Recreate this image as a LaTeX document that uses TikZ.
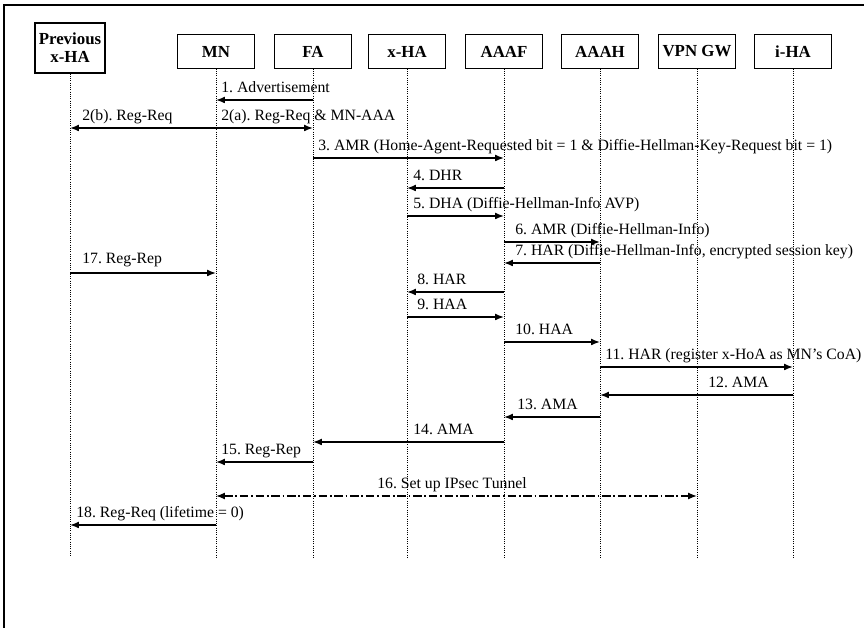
\documentclass[tikz,border=0pt]{standalone}
\usepackage{fontspec}
\setmainfont{Liberation Serif}
\usetikzlibrary{arrows.meta,calc}
\frenchspacing

\begin{document}
\begin{tikzpicture}[
    x=0.025cm, y=-0.025cm,
    >={Latex[length=2.2mm,width=1.7mm]},
    line cap=butt, line join=miter,
    every node/.style={font=\fontsize{11.2}{12}\selectfont},
    entity/.style={draw, line width=0.8pt, minimum width=1.93cm, minimum height=0.83cm,
                   inner sep=1pt, font=\fontsize{12}{13}\selectfont\bfseries, align=center},
    life/.style={line width=0.6pt, densely dotted},
    msg/.style={line width=1pt, ->},
    tunnel/.style={line width=0.9pt, <->, dash pattern=on 6pt off 2pt on 1.2pt off 2pt},
    lbl/.style={anchor=base west, inner sep=0pt},
]
\useasboundingbox (0,0) rectangle (864,628);

% ============================================================
% Lifeline positions (pixels of the original figure)
% ============================================================
\def\xPrev{70}
\def\xMN{216}
\def\xFA{313}
\def\xHA{407}
\def\xAF{504}
\def\xAH{600}
\def\xVPN{697}
\def\xIHA{793}
\def\yEnd{557}

% Frame (top and left edge only)
\draw[line width=1pt] (4,628) -- (4,5) -- (864,5);

% Entities
\node[entity, minimum width=1.75cm, minimum height=1.25cm] (PrevHA) at (\xPrev,48) {Previous\\x-HA};
\node[entity] (MN)   at (\xMN,51.5)  {MN};
\node[entity] (FA)   at (\xFA,51.5)  {FA};
\node[entity] (xHA)  at (\xHA,51.5)  {x-HA};
\node[entity] (AAAF) at (\xAF,51.5)  {AAAF};
\node[entity] (AAAH) at (\xAH,51.5)  {AAAH};
\node[entity] (VPN)  at (\xVPN,51.5) {VPN GW};
\node[entity] (iHA)  at (\xIHA,51.5) {i-HA};

% Lifelines
\draw[life] (PrevHA.south) -- (PrevHA |- 0,\yEnd);
\draw[life] (MN.south)   -- (MN |- 0,\yEnd);
\draw[life] (FA.south)   -- (FA |- 0,\yEnd);
\draw[life] (xHA.south)  -- (xHA |- 0,\yEnd);
\draw[life] (AAAF.south) -- (AAAF |- 0,\yEnd);
\draw[life] (AAAH.south) -- (AAAH |- 0,\yEnd);
\draw[life] (VPN.south)  -- (VPN |- 0,\yEnd);
\draw[life] (iHA.south)  -- (iHA |- 0,\yEnd);

% ============================================================
% Messages: arrow at y, label baseline 7px above
% ============================================================
\draw[msg] (FA |- 0,100) -- (MN |- 0,100);
\node[lbl] (m1) at (\xMN+5,93) {1. Advertisement};

\draw[msg] (MN |- 0,128) -- (PrevHA |- 0,128);
\node[lbl] (m2b) at (\xPrev+12,121) {2(b). Reg-Req};
\draw[msg] (MN |- 0,128) -- (FA |- 0,128);
\node[lbl] (m2a) at (\xMN+5,121) {2(a). Reg-Req \& MN-AAA};

\draw[msg] (FA |- 0,158) -- (AAAF |- 0,158);
\node[lbl] (m3) at (\xFA+5,151) {3. AMR (Home-Agent-Requested bit = 1 \& Diffie-Hellman-Key-Request bit = 1)};

\draw[msg] (AAAF |- 0,188) -- (xHA |- 0,188);
\node[lbl] (m4) at (\xHA+6,181) {4. DHR};

\draw[msg] (xHA |- 0,216) -- (AAAF |- 0,216);
\node[lbl] (m5) at (\xHA+6,209) {5. DHA (Diffie-Hellman-Info AVP)};

\draw[msg] (AAAF |- 0,242) -- (AAAH |- 0,242);
\node[lbl] (m6) at (\xAF+11,235) {6. AMR (Diffie-Hellman-Info)};

\draw[msg] (AAAH |- 0,263) -- (AAAF |- 0,263);
\node[lbl] (m7) at (\xAF+11,256) {7. HAR (Diffie-Hellman-Info, encrypted session key)};

\draw[msg] (PrevHA |- 0,273) -- (MN |- 0,273);
\node[lbl] (m17) at (\xPrev+12,264) {17. Reg-Rep};

\draw[msg] (AAAF |- 0,292) -- (xHA |- 0,292);
\node[lbl] (m8) at (\xHA+10,285) {8. HAR};

\draw[msg] (xHA |- 0,317) -- (AAAF |- 0,317);
\node[lbl] (m9) at (\xHA+10,310) {9. HAA};

\draw[msg] (AAAF |- 0,342) -- (AAAH |- 0,342);
\node[lbl] (m10) at (\xAF+11,335) {10. HAA};

\draw[msg] (AAAH |- 0,367) -- (iHA |- 0,367);
\node[lbl] (m11) at (\xAH+5,360) {11. HAR (register x-HoA as MN’s CoA)};

\draw[msg] (iHA |- 0,395) -- (AAAH |- 0,395);
\node[lbl] (m12) at (\xVPN+11,388) {12. AMA};

\draw[msg] (AAAH |- 0,417) -- (AAAF |- 0,417);
\node[lbl] (m13) at (\xAF+13,410) {13. AMA};

\draw[msg] (AAAF |- 0,442) -- (FA |- 0,442);
\node[lbl] (m14) at (\xHA+6,435) {14. AMA};

\draw[msg] (FA |- 0,462) -- (MN |- 0,462);
\node[lbl] (m15) at (\xMN+5,455) {15. Reg-Rep};

\draw[tunnel] (MN |- 0,496) -- (VPN |- 0,496);
\node[lbl] (m16) at (377,489) {16. Set up IPsec Tunnel};

\draw[msg] (MN |- 0,525) -- (PrevHA |- 0,525);
\node[lbl] (m18) at (\xPrev+6,518) {18. Reg-Req (lifetime = 0)};

\end{tikzpicture}
\end{document}
